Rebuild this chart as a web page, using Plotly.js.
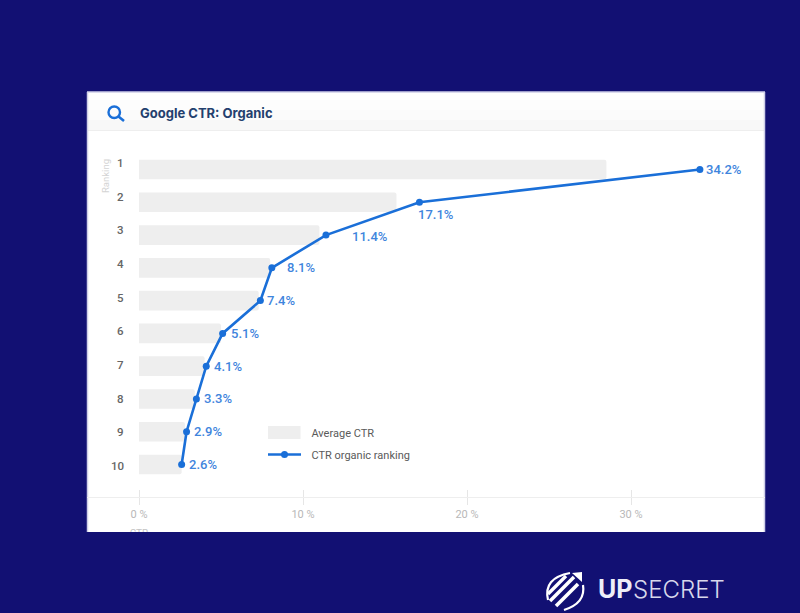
<!DOCTYPE html>
<html><head><meta charset="utf-8">
<script src="https://cdn.plot.ly/plotly-3.0.1.min.js"></script>
<style>html,body{margin:0;padding:0;background:#121073}#c{width:800px;height:613px}</style>
</head><body><div id="c"></div>
<script>
const ranks=[1,2,3,4,5,6,7,8,9,10];
const rankLabels=["1","2","3","4","5","6","7","8","9","10"];
const avgCtr=[28.5,15.7,11.0,8.0,7.3,5.0,4.0,3.4,2.8,2.6];
const organicCtr=[34.2,17.1,11.4,8.1,7.4,5.1,4.1,3.5,2.9,2.6];
const labels=["34.2%","17.1%","11.4%","8.1%","7.4%","5.1%","4.1%","3.3%","2.9%","2.6%"];
const labelDx=[4,-3,24,13,5,6,6,6,5,5];
const labelDy=[0,-12,-1,0,0,0,0,0,0,0];
const rankDy=[6.5,5.6,4.7,3.8,2.9,2,1.2,0.3,-0.6,-1.5];
const xTicks=[0,10,20,30];
const xTickText=["0 %","10 %","20 %","30 %"];

const W=800,H=613,L=87,R=765,T=92,B=532;
const px=x=>(x-L)/(R-L), py=y=>(B-y)/(B-T);
const blue="#1a6fd8", label="#3f85dd";
const sans="Roboto, Arial, sans-serif";
const band=(a,b,c)=>({type:"rect",xref:"paper",yref:"paper",x0:0,x1:1,y0:py(a),y1:py(b),fillcolor:c,line:{width:0},layer:"below"});
const edge=(x0,x1,y0,y1)=>({type:"line",xref:"paper",yref:"paper",x0,x1,y0,y1,line:{color:"#cfcfe8",width:1.5},layer:"below"});

const shapes=[
 band(92,100,"#ffffff"),band(100,110,"#fdfdfd"),band(110,120,"#fbfbfb"),band(120,130,"#f8f8f8"),
 {type:"line",xref:"paper",yref:"paper",x0:0,x1:1,y0:py(130.5),y1:py(130.5),line:{color:"#eeeeee",width:1},layer:"below"},
 edge(0,1,1,1),edge(px(87.5),px(87.5),0,1),edge(px(764.5),px(764.5),0,1),
 {type:"rect",xref:"paper",yref:"paper",x0:px(268),x1:px(300.5),y0:py(426),y1:py(439),fillcolor:"#eeeeee",line:{width:0},layer:"below"},
 {type:"circle",xref:"paper",yref:"paper",x0:px(108.5),x1:px(120),y0:py(118),y1:py(106.5),line:{color:"#1a6fd8",width:2.4},fillcolor:"rgba(0,0,0,0)"},
 {type:"line",xref:"paper",yref:"paper",x0:px(118.5),x1:px(124),y0:py(116.5),y1:py(121),line:{color:"#1a6fd8",width:2.6}},
 {type:"path",xref:"paper",yref:"paper",line:{color:"#fff",width:2.2},path:`M${px(548)},${py(600)} Q${px(543)},${py(578)} ${px(570)},${py(573)}`},
 {type:"path",xref:"paper",yref:"paper",line:{color:"#fff",width:2.2},path:`M${px(583)},${py(585)} Q${px(586)},${py(603)} ${px(564)},${py(610)}`},
 {type:"line",xref:"paper",yref:"paper",x0:px(548),x1:px(566),y0:py(594),y1:py(576),line:{color:"#fff",width:3.4}},
 {type:"line",xref:"paper",yref:"paper",x0:px(550),x1:px(574),y0:py(601),y1:py(577),line:{color:"#fff",width:3.6}},
 {type:"line",xref:"paper",yref:"paper",x0:px(556),x1:px(578),y0:py(606),y1:py(584),line:{color:"#fff",width:3.6}},
 {type:"path",xref:"paper",yref:"paper",fillcolor:"#fff",line:{width:0},path:`M${px(572)},${py(573)} L${px(582)},${py(572)} L${px(582)},${py(582)} Z`}
];

const annotations=[
 {xref:"paper",yref:"paper",x:px(137.5),y:py(113),xanchor:"left",yanchor:"middle",showarrow:false,text:"<b>Google CTR: Organic</b>",font:{family:"Inter, Roboto, sans-serif",size:13,color:"#23406e"}},
 {xref:"paper",yref:"paper",x:px(105),y:py(176),textangle:-90,xanchor:"center",yanchor:"middle",showarrow:false,text:"Ranking",font:{family:sans,size:9.5,color:"#d4d4d4"}},
 {xref:"paper",yref:"paper",x:px(596),y:py(589),xanchor:"left",yanchor:"middle",showarrow:false,text:"<b>UP</b>",font:{family:"Inter, Roboto, sans-serif",size:25,color:"#eeeef8"}},
 {xref:"paper",yref:"paper",x:px(631),y:py(589),xanchor:"left",yanchor:"middle",showarrow:false,text:"SECRET",font:{family:"Inter, Roboto, sans-serif",size:24,color:"#d8d8ec",weight:300}}
].concat(ranks.map((r,i)=>({x:organicCtr[i],y:r,xref:"x",yref:"y",text:labels[i],showarrow:false,xanchor:"left",yanchor:"middle",xshift:labelDx[i],yshift:labelDy[i],font:{family:sans,size:13,color:label,weight:500}})))
 .concat(ranks.map((r,i)=>({xref:"paper",x:px(126),y:r,yref:"y",text:rankLabels[i],showarrow:false,xanchor:"right",yanchor:"middle",yshift:rankDy[i],font:{family:sans,size:11.5,color:"#666666",weight:500}})));

const data=[
 {type:"bar",orientation:"h",name:"\u00a0\u00a0Average CTR",legendgroup:"a",x:avgCtr,y:ranks,width:0.6,marker:{color:"#eeeeee",cornerradius:2,line:{width:0}},hoverinfo:"skip"},
 {type:"scatter",mode:"lines+markers",name:"\u00a0\u00a0CTR organic ranking",legendgroup:"b",x:organicCtr,y:ranks,line:{color:blue,width:2.6},marker:{color:blue,size:7},hoverinfo:"skip"},
 {type:"scatter",mode:"text",x:[0],y:[12.13],text:["CTR"],xaxis:"x2",yaxis:"y",textfont:{family:sans,size:10,color:"#c4c4c4"},showlegend:false,hoverinfo:"skip",cliponaxis:true}
];
const axisPos=(B-497)/(B-T);
const xBase={range:[-(139-L)/16.4,(R-139)/16.4],tickvals:xTicks,ticktext:xTickText,anchor:"free",position:axisPos,showgrid:false,zeroline:false,ticklen:7,tickcolor:"#e6e6e6",tickwidth:1};
const layout={
 width:W,height:H,margin:{l:L,r:W-R,t:T,b:H-B,pad:0},
 paper_bgcolor:"#121073",plot_bgcolor:"#ffffff",
 showlegend:true,
 legend:{x:px(263),y:py(418),xanchor:"left",yanchor:"top",bgcolor:"rgba(0,0,0,0)",itemwidth:33,traceorder:"grouped",tracegroupgap:3,font:{family:sans,size:11,color:"#5a5a5a"},itemclick:false},
 bargap:0.4,
 xaxis:Object.assign({},xBase,{ticks:"outside",showline:true,linecolor:"#eeeeee",linewidth:1,tickfont:{family:sans,size:11,color:"#b8b8b8"},ticklabelstandoff:0}),
 xaxis2:Object.assign({},xBase,{overlaying:"x",ticks:"inside",showline:false,showticklabels:false}),
 yaxis:{range:[1+(B-169.5)/32.78,1+(T-169.5)/32.78],tickvals:ranks,anchor:"free",position:(133-L)/(R-L),showgrid:false,zeroline:false,showline:false,ticks:"",showticklabels:false},
 shapes,annotations,
 font:{family:sans}
};
Plotly.newPlot("c",data,layout,{displayModeBar:false,staticPlot:true});
</script></body></html>
